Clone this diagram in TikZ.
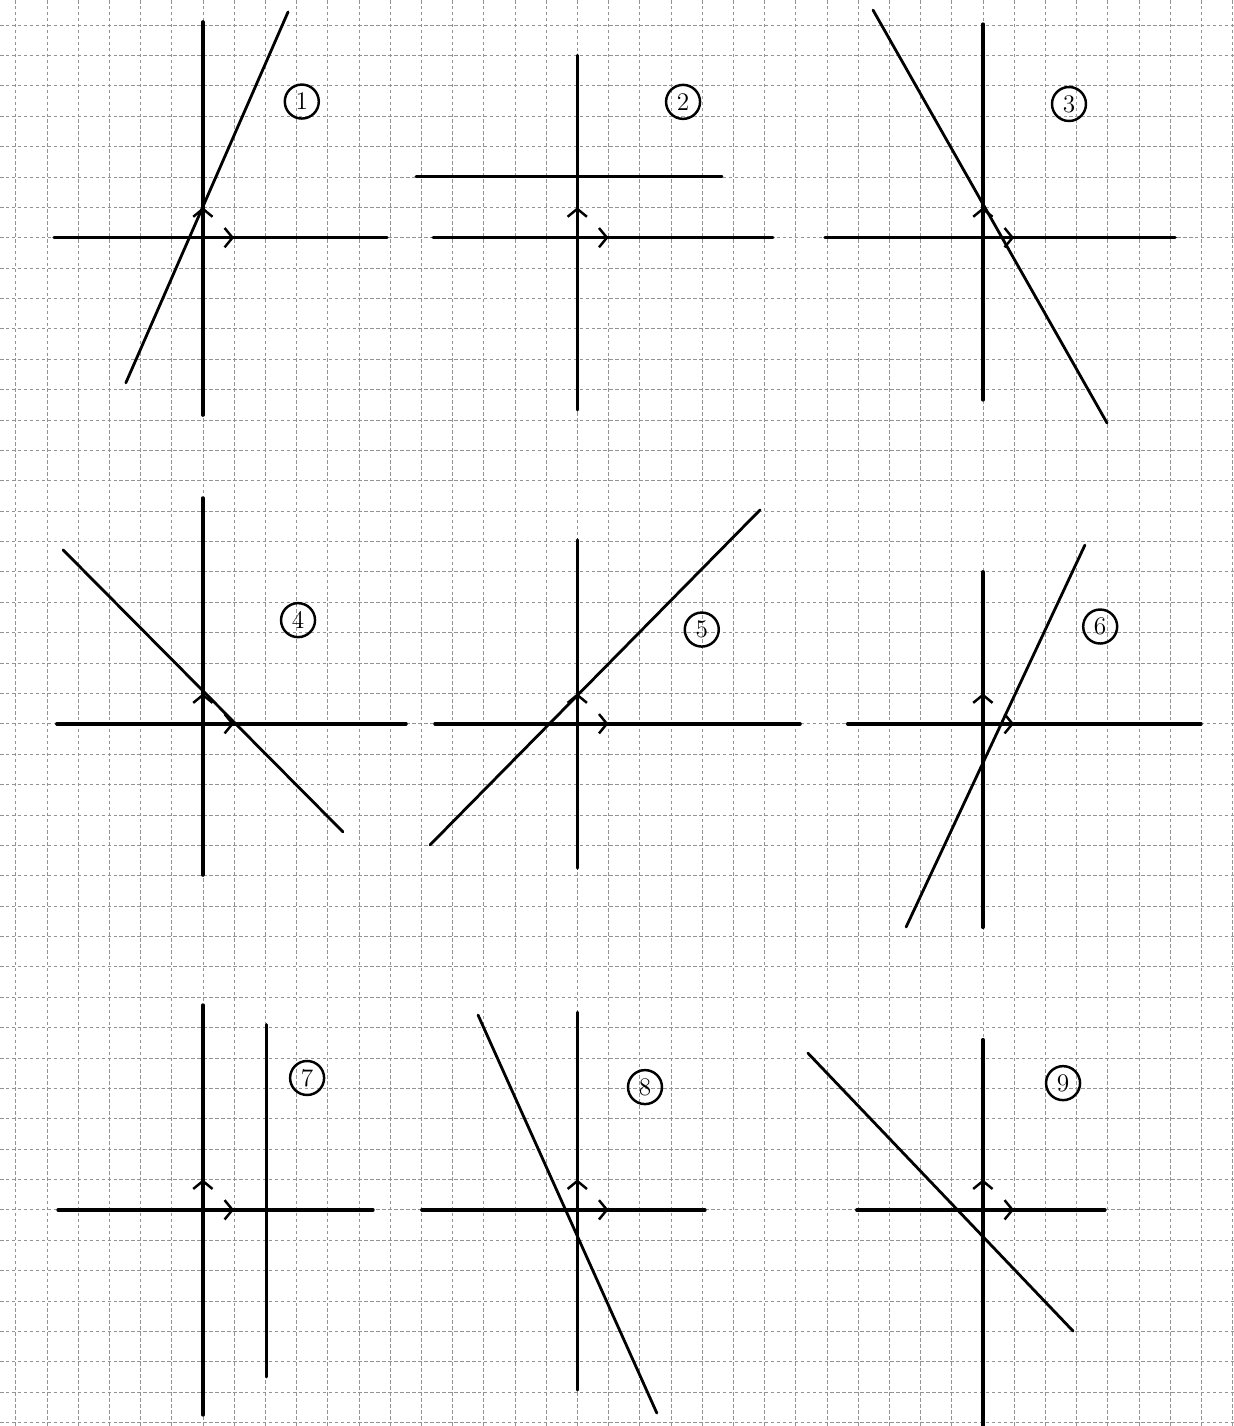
\documentclass[tikz,border=0pt]{standalone}
\usepackage{tikz}
\usetikzlibrary{arrows.meta}

\begin{document}
\begin{tikzpicture}[x=0.624cm, y=-0.6076cm,
    gridline/.style={gray!85, line width=0.4pt, dash pattern=on 2pt off 1.4pt},
    axis/.style={line width=2pt, line cap=round},
    graphline/.style={line width=1.6pt, line cap=round},
    unitvec/.style={line width=1.4pt, -{Straight Barb[length=4.5pt, width=11pt]}},
    numlabel/.style={circle, draw, line width=1.4pt, minimum size=0.68cm, inner sep=0pt, font=\Large}
]

% Squared paper
\useasboundingbox (-0.503, -0.823) rectangle (39.048, 46.116);
\fill[white] (-0.503, -0.823) rectangle (39.048, 46.116);
\foreach \i in {0,...,39}
    \draw[gridline] (\i, -0.823) -- (\i, 46.116);
\foreach \j in {0,...,46}
    \draw[gridline] (-0.503, \j) -- (39.048, \j);

% Graph 1
\draw[axis] (1.23, 7) -- (11.9, 7);
\draw[axis] (6, -0.1) -- (6, 12.84);
\draw[unitvec] (6, 7) -- (7, 7);
\draw[unitvec] (6, 7) -- (6, 6);
\draw[graphline] (3.53, 11.78) -- (8.73, -0.43);
\node[numlabel] (n1) at (9.17, 2.52) {1};

% Graph 2
\draw[axis] (13.38, 7) -- (24.27, 7);
\draw[axis] (18, 1.0) -- (18, 12.67);
\draw[unitvec] (18, 7) -- (19, 7);
\draw[unitvec] (18, 7) -- (18, 6);
\draw[graphline] (12.83, 5) -- (22.64, 5);
\node[numlabel] (n2) at (21.39, 2.53) {2};

% Graph 3
\draw[axis] (25.94, 7) -- (37.16, 7);
\draw[axis] (31, -0.03) -- (31, 12.34);
\draw[unitvec] (31, 7) -- (32, 7);
\draw[unitvec] (31, 7) -- (31, 6);
\draw[graphline] (27.48, -0.49) -- (34.98, 13.1);
\node[numlabel] (n3) at (33.76, 2.6) {3};

% Graph 4
\draw[axis] (1.32, 23) -- (12.51, 23);
\draw[axis] (6, 15.57) -- (6, 27.98);
\draw[unitvec] (6, 23) -- (7, 23);
\draw[unitvec] (6, 23) -- (6, 22);
\draw[graphline] (1.52, 17.28) -- (10.49, 26.56);
\node[numlabel] (n4) at (9.05, 19.59) {4};

% Graph 5
\draw[axis] (13.44, 23) -- (25.14, 23);
\draw[axis] (18, 16.95) -- (18, 27.75);
\draw[unitvec] (18, 23) -- (19, 23);
\draw[unitvec] (18, 23) -- (18, 22);
\draw[graphline] (13.28, 26.99) -- (23.86, 15.96);
\node[numlabel] (n5) at (21.99, 19.9) {5};

% Graph 6
\draw[axis] (26.67, 23) -- (37.99, 23);
\draw[axis] (31, 18.0) -- (31, 29.7);
\draw[unitvec] (31, 23) -- (32, 23);
\draw[unitvec] (31, 23) -- (31, 22);
\draw[graphline] (28.54, 29.69) -- (34.27, 17.12);
\node[numlabel] (n6) at (34.76, 19.8) {6};

% Graph 7
\draw[axis] (1.36, 39) -- (11.45, 39);
\draw[axis] (6, 32.26) -- (6, 45.75);
\draw[unitvec] (6, 39) -- (7, 39);
\draw[unitvec] (6, 39) -- (6, 38);
\draw[graphline] (8.05, 32.9) -- (8.05, 44.5);
\node[numlabel] (n7) at (9.34, 34.66) {7};

% Graph 8
\draw[axis] (13.02, 39) -- (22.09, 39);
\draw[axis] (18, 32.5) -- (18, 44.93);
\draw[unitvec] (18, 39) -- (19, 39);
\draw[unitvec] (18, 39) -- (18, 38);
\draw[graphline] (14.82, 32.59) -- (20.55, 45.69);
\node[numlabel] (n8) at (20.17, 34.96) {8};

% Graph 9
\draw[axis] (26.96, 39) -- (34.91, 39);
\draw[axis] (31, 33.4) -- (31, 46.116);
\draw[unitvec] (31, 39) -- (32, 39);
\draw[unitvec] (31, 39) -- (31, 38);
\draw[graphline] (25.39, 33.84) -- (33.89, 42.99);
\node[numlabel] (n9) at (33.57, 34.83) {9};

\end{tikzpicture}
\end{document}
